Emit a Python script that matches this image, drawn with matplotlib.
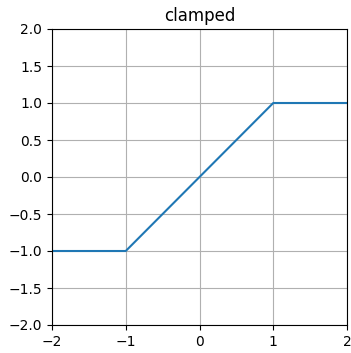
import matplotlib
matplotlib.use("Agg")
import matplotlib.pyplot as plt

# breakpoints of the clamped line
x_values = [-2, -1, 1, 2]
y_values = [-1, -1, 1, 1]

fig = plt.figure(figsize=(3.51, 3.53), dpi=100)
ax = fig.add_axes([52 / 351, 1 - 325 / 353, 295 / 351, 296 / 353])
ax.plot(x_values, y_values, color="#1f77b4", linewidth=1.5)
ax.set_xlim(-2, 2)
ax.set_ylim(-2, 2)
ax.set_xticks([-2, -1, 0, 1, 2])
ax.set_yticks([-2.0, -1.5, -1.0, -0.5, 0.0, 0.5, 1.0, 1.5, 2.0])
ax.grid(True)
ax.set_title("clamped")
fig.savefig("out.png", dpi=100)
